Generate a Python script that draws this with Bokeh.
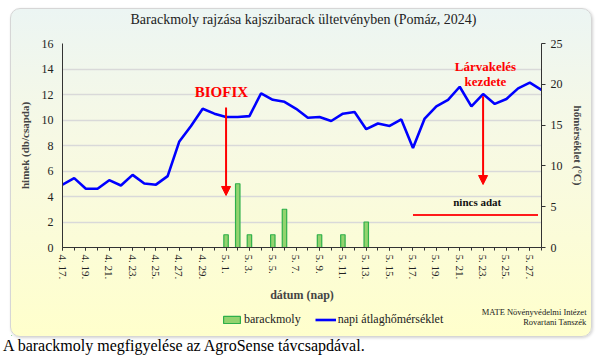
from bokeh.plotting import figure
from bokeh.models import (Range1d, LinearAxis, FixedTicker, Label, Arrow, NormalHead,
                          Legend, LegendItem, ColumnDataSource, Div)
from bokeh.layouts import column, row
from bokeh.embed import file_html
from bokeh.resources import INLINE

# ---- data ----
dates = ["4. 17.", "4. 18.", "4. 19.", "4. 20.", "4. 21.", "4. 22.", "4. 23.", "4. 24.",
         "4. 25.", "4. 26.", "4. 27.", "4. 28.", "4. 29.", "4. 30.",
         "5. 1.", "5. 2.", "5. 3.", "5. 4.", "5. 5.", "5. 6.", "5. 7.", "5. 8.", "5. 9.",
         "5. 10.", "5. 11.", "5. 12.", "5. 13.", "5. 14.", "5. 15.", "5. 16.", "5. 17.",
         "5. 18.", "5. 19.", "5. 20.", "5. 21.", "5. 22.", "5. 23.", "5. 24.", "5. 25.",
         "5. 26.", "5. 27.", "5. 28."]
temps = [7.7, 8.5, 7.2, 7.2, 8.25, 7.6, 8.9, 7.85, 7.7, 8.75, 13.0, 14.9, 17.0, 16.4,
         16.0, 16.0, 16.1, 18.9, 18.1, 17.85, 17.0, 15.9, 16.0, 15.5, 16.4, 16.6, 14.5,
         15.2, 14.9, 15.7, 12.2, 15.8, 17.3, 18.1, 19.7, 17.3, 18.8, 17.6, 18.2, 19.5,
         20.2, 19.3]
# moth catches (db/csapda); None = no data
moths = [0, 0, 0, 0, 0, 0, 0, 0, 0, 0, 0, 0, 0, 0,
         1, 5, 1, 0, 1, 3, 0, 0, 1, 0, 1, 0, 2,
         None, None, None, None, None, None, None, None, None, None, None, None, None,
         None, None]
left_ticks = [0, 2, 4, 6, 8, 10, 12, 14, 16]
right_ticks = [0, 5, 10, 15, 20, 25]

FONT = "Liberation Serif"
BAR_FILL, BAR_LINE, LINE_COL = "#93d36f", "#2eb04a", "#0000ff"
idx = list(range(len(dates)))
bar_src = ColumnDataSource(dict(x=[i for i, v in zip(idx, moths) if v],
                                top=[v for v in moths if v]))
line_src = ColumnDataSource(dict(x=idx, t=temps))


def strip(h):
    f = figure(width=580, height=h, x_range=Range1d(0, 580), y_range=Range1d(0, h),
               x_axis_type=None, y_axis_type=None,
               output_backend="svg", toolbar_location=None,
               min_border_left=0, min_border_right=0, min_border_top=0, min_border_bottom=0)
    f.grid.visible = False
    f.background_fill_color = None
    f.border_fill_color = None
    f.outline_line_color = None
    return f


# ---- top strip: title (its frame is aligned with the chart frame) ----
t = strip(22)
t.add_layout(Label(x=241, y=12, x_units="screen", y_units="screen",
                   text="Barackmoly rajzása kajszibarack ültetvényben (Pomáz, 2024)",
                   text_align="center", text_baseline="middle", text_font=FONT,
                   text_font_size="14px", text_color="#222222"))

# ---- main chart ----
p = figure(frame_width=479, frame_height=204, x_range=Range1d(idx[0], idx[-1]),
           y_range=Range1d(left_ticks[0], left_ticks[-1]),
           output_backend="svg", toolbar_location=None,
           min_border_left=51, min_border_right=50, min_border_top=12, min_border_bottom=57)
p.extra_y_ranges = {"temp": Range1d(right_ticks[0], right_ticks[-1])}
p.background_fill_color = None
p.border_fill_color = None
p.outline_line_color = None

# grid
p.xgrid.visible = False
p.ygrid.ticker = FixedTicker(ticks=left_ticks)
p.ygrid.grid_line_color = "#d9d9d9"
p.ygrid.grid_line_width = 1.5

# x axis
xa = p.xaxis[0]
xa.ticker = FixedTicker(ticks=idx[::2], minor_ticks=idx)
xa.major_label_overrides = {i: dates[i] for i in idx[::2]}
xa.major_label_orientation = "vertical"
xa.major_label_text_font = FONT
xa.major_label_text_font_size = "11px"
xa.major_label_text_color = "#222222"
xa.major_label_standoff = 4
xa.major_tick_out = 3
xa.major_tick_in = 0
xa.minor_tick_out = 3
xa.minor_tick_in = 0
xa.axis_line_color = "#333333"
xa.major_tick_line_color = "#333333"
xa.minor_tick_line_color = "#333333"
xa.axis_label = "dátum (nap)"
xa.axis_label_text_font = FONT
xa.axis_label_text_font_style = "bold"
xa.axis_label_text_font_size = "12px"
xa.axis_label_standoff = 6

# left axis
ya = p.yaxis[0]
ya.ticker = FixedTicker(ticks=left_ticks)
ya.major_tick_out = 0
ya.major_tick_in = 0
ya.minor_tick_out = 0
ya.minor_tick_in = 0
ya.major_label_text_font = FONT
ya.major_label_text_font_size = "12px"
ya.major_label_text_color = "#222222"
ya.major_label_standoff = 9
ya.axis_line_color = "#333333"
ya.axis_label = "himek (db/csapda)"
ya.axis_label_text_font = FONT
ya.axis_label_text_font_style = "bold"
ya.axis_label_text_font_size = "11px"
ya.axis_label_standoff = 8

# right axis
ra = LinearAxis(y_range_name="temp", ticker=FixedTicker(ticks=right_ticks))
ra.major_tick_out = 4
ra.major_tick_in = 0
ra.minor_tick_out = 0
ra.minor_tick_in = 0
ra.major_label_text_font = FONT
ra.major_label_text_font_size = "12px"
ra.major_label_text_color = "#222222"
ra.major_label_standoff = 5
ra.axis_line_color = "#333333"
ra.major_tick_line_color = "#333333"
ra.axis_label = "hőmérséklet (°C)"
ra.axis_label_text_font = FONT
ra.axis_label_text_font_style = "bold"
ra.axis_label_text_font_size = "11px"
ra.axis_label_standoff = 6
p.add_layout(ra, "right")

# glyphs
p.vbar(x="x", top="top", width=0.38, source=bar_src,
       fill_color=BAR_FILL, line_color=BAR_LINE, line_width=1.2)
p.line(x="x", y="t", source=line_src, y_range_name="temp",
       line_color=LINE_COL, line_width=2.6)

# "nincs adat" marker line
p.segment(x0=30, y0=2.55, x1=40.7, y1=2.55, line_color="#ff1a1a", line_width=2)
p.add_layout(Label(x=35.5, y=3.6, text="nincs adat", text_align="center",
                   text_baseline="middle", text_font=FONT, text_font_style="bold",
                   text_font_size="11px", text_color="#111111"))

# arrows and annotations
p.add_layout(Arrow(end=NormalHead(size=9, fill_color="#ff0000", line_color="#ff0000"),
                   x_start=14, y_start=10.98, x_end=14, y_end=4.08,
                   line_color="#ff0000", line_width=2))
p.add_layout(Label(x=13.6, y=12.16, text="BIOFIX", text_align="center",
                   text_baseline="middle", text_font=FONT, text_font_style="bold",
                   text_font_size="15px", text_color="#ff0000"))
p.add_layout(Arrow(end=NormalHead(size=9, fill_color="#ff0000", line_color="#ff0000"),
                   x_start=36, y_start=11.87, x_end=36, y_end=4.94,
                   line_color="#ff0000", line_width=2))
p.add_layout(Label(x=36.2, y=14.2, text="Lárvakelés", text_align="center",
                   text_baseline="middle", text_font=FONT, text_font_style="bold",
                   text_font_size="13px", text_color="#ff0000"))
p.add_layout(Label(x=36.2, y=13.0, text="kezdete", text_align="center",
                   text_baseline="middle", text_font=FONT, text_font_style="bold",
                   text_font_size="13px", text_color="#ff0000"))

# ---- bottom strip: legend + credits (nested so it keeps its full-width frame) ----
b = strip(31)
# legend-only sample glyphs, placed outside the visible strip
lb = b.vbar(x=[-50], top=[1], width=1, fill_color=BAR_FILL, line_color=BAR_LINE, line_width=1.2)
ll = b.line(x=[-60, -50], y=[1, 1], line_color=LINE_COL, line_width=2.6)
legend = Legend(items=[LegendItem(label="barackmoly", renderers=[lb]),
                       LegendItem(label="napi átlaghőmérséklet", renderers=[ll])],
                location=(210, 9), orientation="horizontal",
                background_fill_alpha=0, border_line_alpha=0,
                label_text_font=FONT, label_text_font_size="12px",
                label_text_color="#222222", label_height=14,
                glyph_width=21, glyph_height=9, spacing=14, padding=0, margin=0,
                label_standoff=2)
b.add_layout(legend, "center")
b.add_layout(Label(x=575, y=25, x_units="screen", y_units="screen",
                   text="MATE Növényvédelmi Intézet", text_align="right",
                   text_baseline="middle", text_font=FONT, text_font_size="8.5px",
                   text_color="#222222"))
b.add_layout(Label(x=575, y=15, x_units="screen", y_units="screen",
                   text="Rovartani Tanszék", text_align="right",
                   text_baseline="middle", text_font=FONT, text_font_size="8.5px",
                   text_color="#222222"))

box = column(t, p, row(b), spacing=0, margin=(8, 0, 0, 10),
             styles={"background": "linear-gradient(to bottom, #ecf5f3 0%, #f7f9e4 40%, #ffffcc 100%)",
                     "border": "1px solid #d6d6d6", "border-radius": "10px",
                     "box-shadow": "1px 1px 3px rgba(0,0,0,0.18)"})

caption = Div(text="A barackmoly megfigyelése az AgroSense távcsapdával.", width=590,
              margin=(-2, 0, 0, 3),
              styles={"font-family": FONT, "font-size": "16px", "color": "#000000"})

layout = column(box, caption, spacing=0)
open("out.html", "w").write(file_html(layout, INLINE))
